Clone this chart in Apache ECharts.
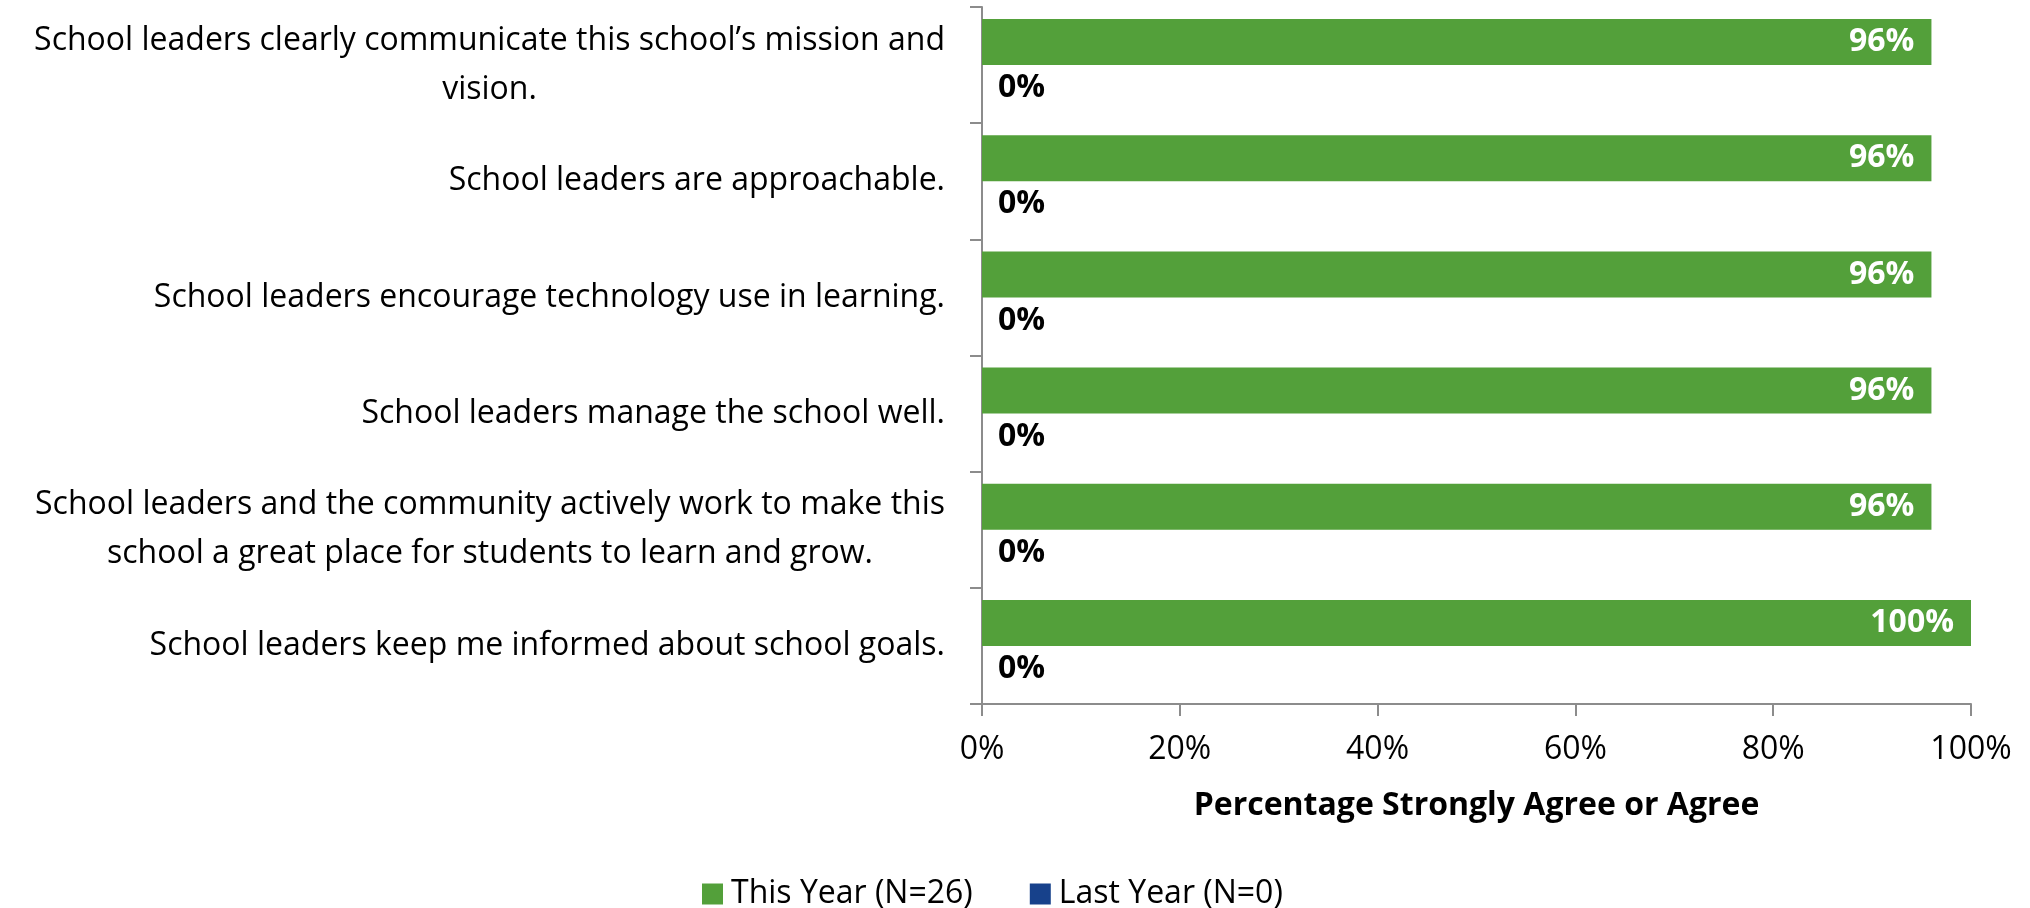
<!DOCTYPE html>
<html>
<head>
<meta charset="utf-8">
<script src="https://cdn.jsdelivr.net/npm/echarts@6/dist/echarts.min.js"></script>
<style>
html,body{margin:0;padding:0;background:#fff;}
#chart{width:2030px;height:908px;}
</style>
</head>
<body>
<div id="chart"></div>
<script>
var categories = [
  "School leaders clearly communicate this school\u2019s mission and\nvision.",
  "School leaders are approachable.",
  "School leaders encourage technology use in learning.",
  "School leaders manage the school well.",
  "School leaders and the community actively work to make this\nschool a great place for students to learn and grow.",
  "School leaders keep me informed about school goals."
];
var thisYear = [96, 96, 96, 96, 96, 100];
var lastYear = [0, 0, 0, 0, 0, 0];
var seriesNames = ["This Year (N=26)", "Last Year (N=0)"];
var xTicks = [0, 20, 40, 60, 80, 100];
var axisTitle = "Percentage Strongly Agree or Agree";

var FONT = "Open Sans";
var FS = 32;
var GREEN = "#53A03A";
var BLUE = "#17418B";
var AXIS = "#8C8C8C";

var chart = echarts.init(document.getElementById('chart'));
chart.setOption({
  animation: false,
  textStyle: { fontFamily: FONT },
  grid: { left: 982, right: 59, top: 7, bottom: 204, containLabel: false },
  xAxis: {
    type: 'value', min: xTicks[0], max: xTicks[xTicks.length - 1], interval: 20,
    axisLine: { show: true, lineStyle: { color: AXIS, width: 2 } },
    axisTick: { show: true, length: 12, lineStyle: { color: AXIS, width: 2 } },
    splitLine: { show: false },
    axisLabel: { formatter: '{value}%', fontSize: FS, color: '#000', fontFamily: FONT, margin: 30 },
    name: axisTitle, nameLocation: 'middle', nameGap: 86,
    nameTextStyle: { fontSize: FS, fontWeight: 'bold', color: '#000', fontFamily: FONT }
  },
  yAxis: {
    type: 'category', data: categories, inverse: true,
    axisLine: { show: true, lineStyle: { color: AXIS, width: 2 } },
    axisTick: { show: true, length: 12, lineStyle: { color: AXIS, width: 2 } },
    axisLabel: {
      fontSize: FS, color: '#000', fontFamily: FONT, margin: 37, lineHeight: 49,
      formatter: function (v) {
        var lines = v.split('\n');
        if (lines.length === 1) return v;
        return lines.map(function (l) { return '{c|' + l + '}'; }).join('\n');
      },
      rich: { c: { align: 'center', fontSize: FS, fontFamily: FONT, lineHeight: 49, color: '#000' } }
    }
  },
  legend: {
    data: seriesNames, left: 697, top: 873, itemWidth: 21, itemHeight: 21, itemGap: 57,
    icon: 'rect',
    textStyle: { fontSize: FS, color: '#000', fontFamily: FONT, padding: [0, 0, 0, 3] }
  },
  series: [
    {
      name: seriesNames[0], type: 'bar', data: thisYear, barWidth: 46, barGap: '0%',
      itemStyle: { color: GREEN },
      label: { show: true, position: 'insideRight', distance: 17, formatter: '{c}%',
        color: '#fff', fontWeight: 'bold', fontSize: FS, fontFamily: FONT }
    },
    {
      name: seriesNames[1], type: 'bar', data: lastYear, barWidth: 46, barGap: '0%',
      itemStyle: { color: BLUE },
      label: { show: true, position: 'right', distance: 16, formatter: '{c}%',
        color: '#000', fontWeight: 'bold', fontSize: FS, fontFamily: FONT }
    }
  ]
});
</script>
</body>
</html>
